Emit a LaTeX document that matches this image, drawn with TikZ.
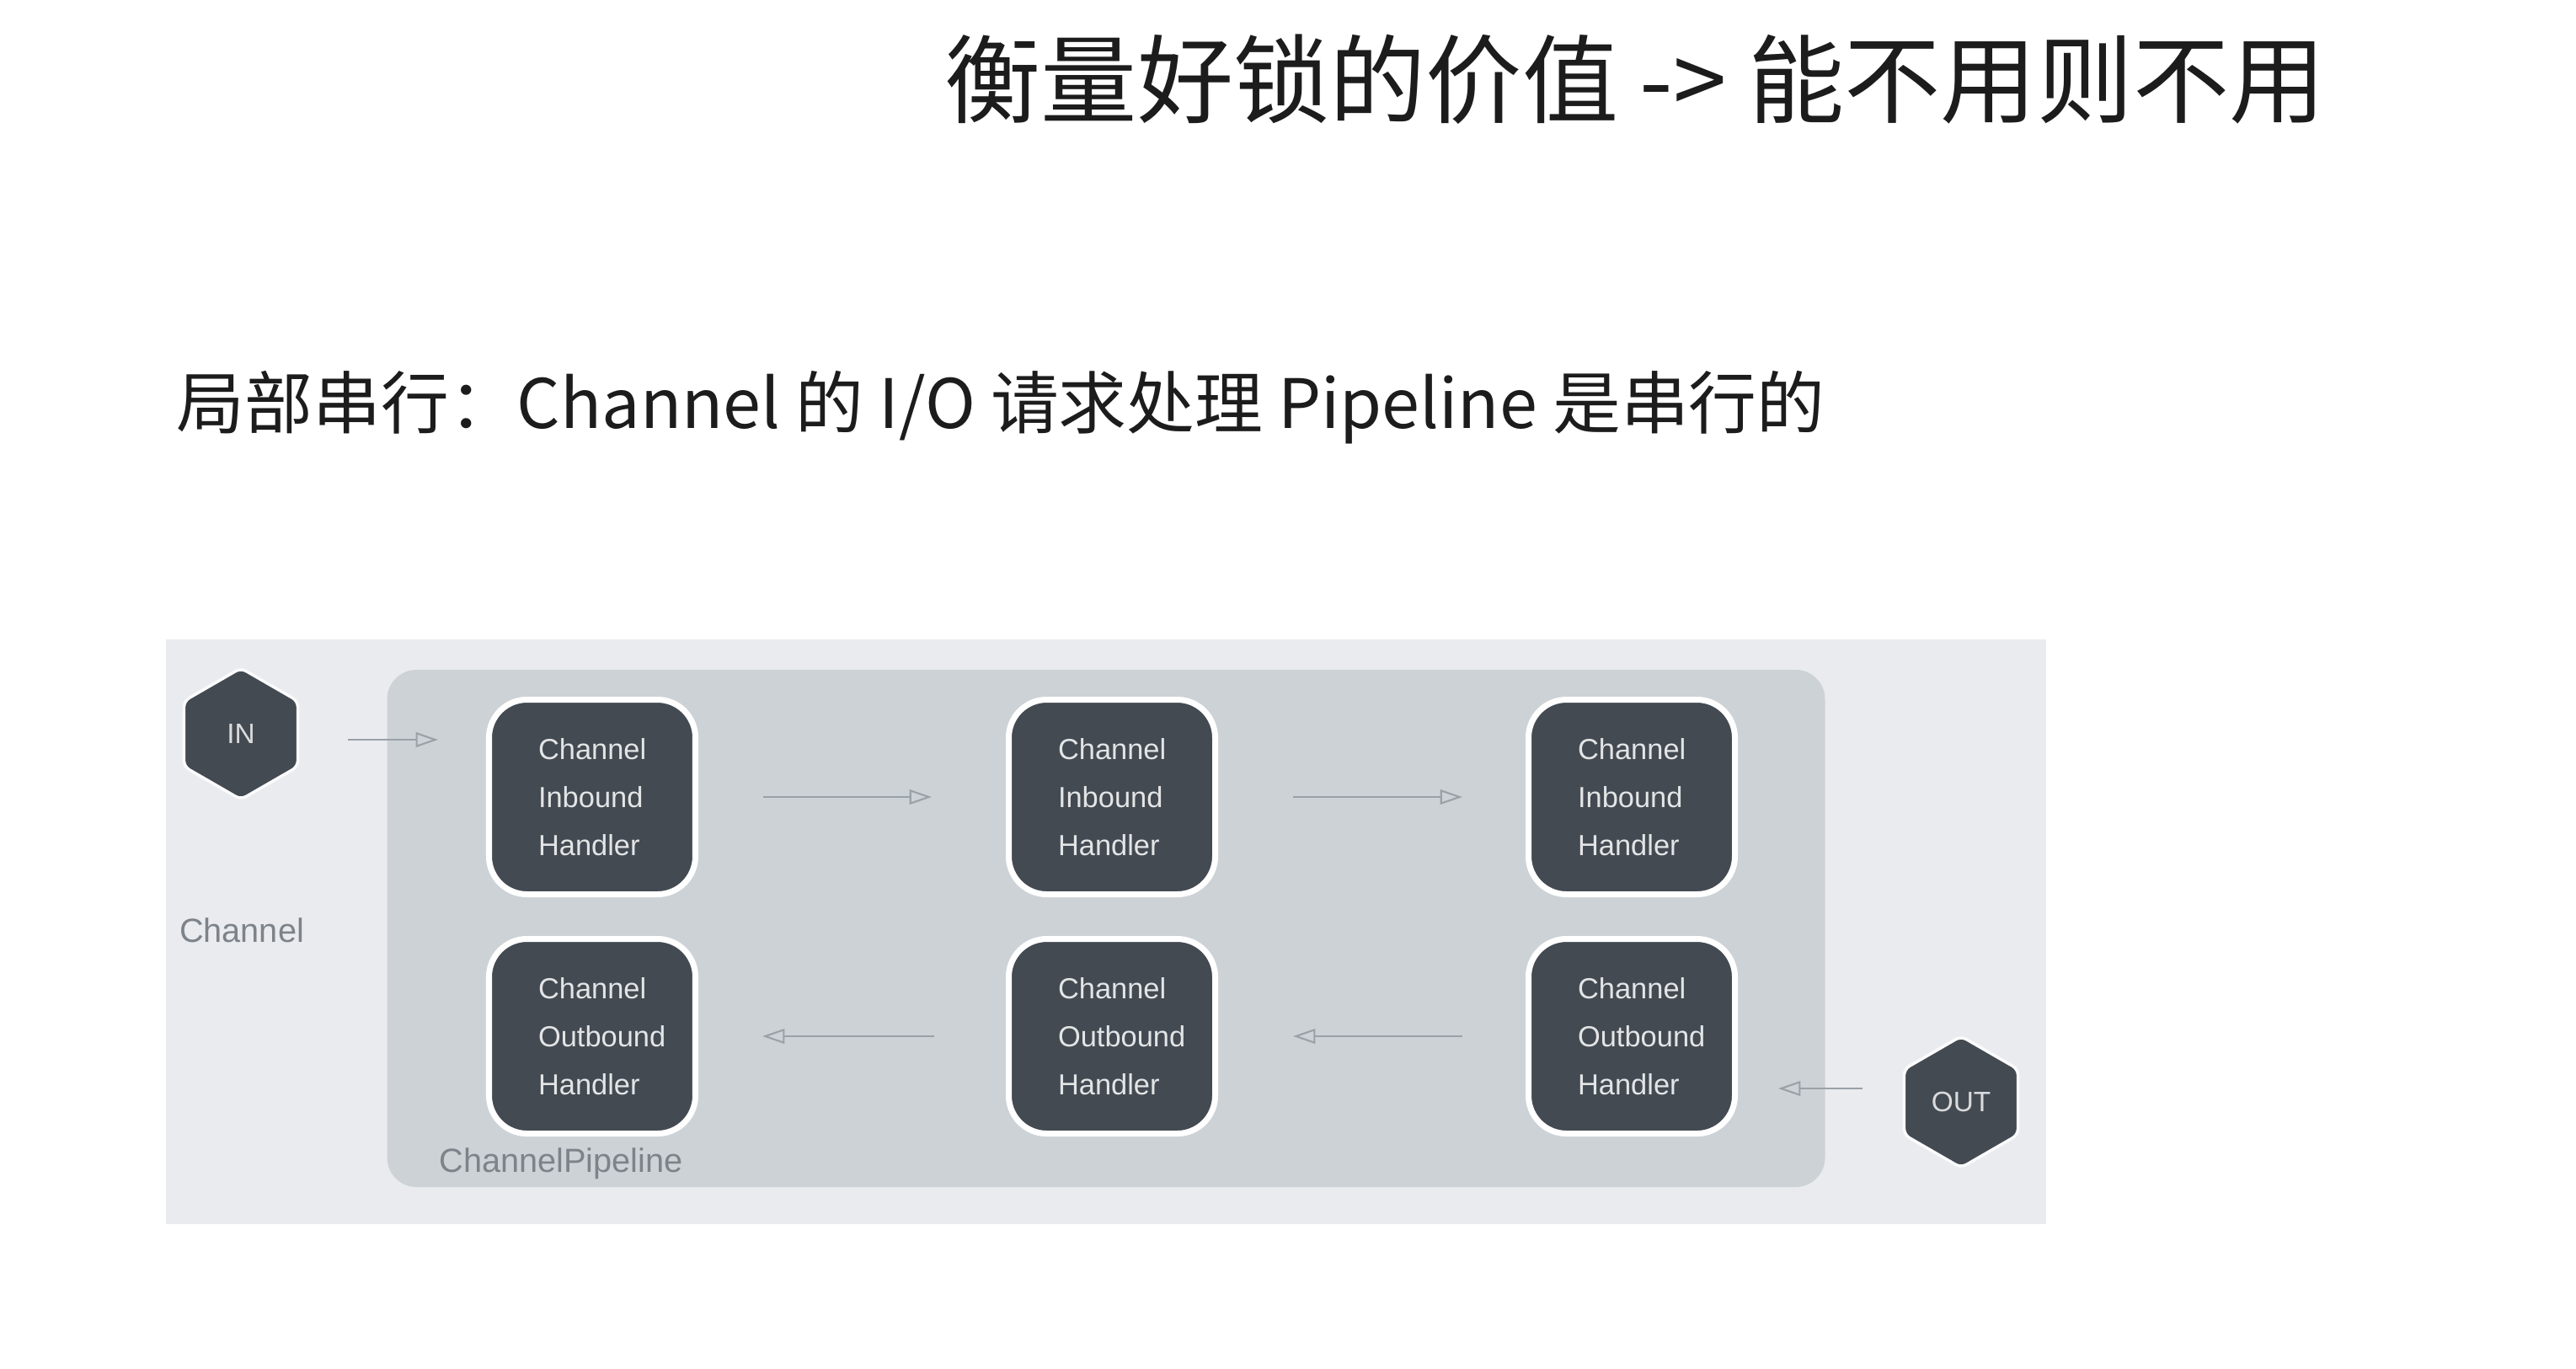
\documentclass[tikz,border=0pt]{standalone}
\usepackage{fontspec}
\setmainfont{Liberation Sans}
\newfontfamily\cjk{Noto Sans CJK SC}
\usetikzlibrary{positioning}
\usetikzlibrary{calc}
\usetikzlibrary{shapes.geometric}
\usetikzlibrary{arrows.meta}
\definecolor{channel colour}{HTML}{E9EBEF}
\definecolor{pipeline colour}{HTML}{CDD2D6}
\definecolor{handler colour}{HTML}{434A52}
\definecolor{flow colour}{HTML}{9AA1A8}
\definecolor{caption colour}{HTML}{7D838A}
\definecolor{heading colour}{HTML}{1C1C1C}
\tikzset{
    % Thin open heads, as on the slide
    >={Triangle[open, length=7.5pt, width=5pt]},
%
    % Define a set of styles
    % First some fills
    channel fill/.style={fill=channel colour},
    pipeline fill/.style={fill=pipeline colour},
    handler fill/.style={fill=handler colour},
    % Next the lines
    flow/.style={color=flow colour, line width=0.6pt, ->},
%
    every node/.style={align=center},
}

\begin{document}
\begin{tikzpicture}[
    handler/.style={
        rectangle, handler fill, draw=white, line width=2pt,
        rounded corners=4.5mm, minimum width=2.45cm, minimum height=2.31cm,
        text=white!85!handler colour, text width=1.28cm, align=left,
        font=\fontsize{9.8}{16.2}\selectfont},
    port/.style={
        regular polygon, regular polygon sides=6, shape border rotate=30,
        handler fill, draw=white!80!channel colour, line width=1pt,
        minimum size=1.56cm, inner sep=0pt, rounded corners=2pt,
        text=white!80!handler colour, font=\fontsize{9.5}{11}\selectfont},
    caption/.style={text=caption colour, font=\fontsize{11.3}{14}\selectfont},
    heading/.style={anchor=west, inner sep=0pt, text=heading colour},
    ]

\fill [white] (0,0) rectangle (30.58,-16.24);
\useasboundingbox (0,0) rectangle (30.58,-16.24);

\path
    (11.21,-0.94) node (heading) [heading,
        font=\cjk\fontsize{32.5}{38}\selectfont]
        {衡量好锁的价值 -> 能不用则不用}
    (2.09,-4.84) node (subheading) [heading,
        font=\cjk\fontsize{23}{28}\selectfont]
        {局部串行：Channel 的 I/O 请求处理 Pipeline 是串行的};

\path (13.13,-11.06)
    node (channel) [
        rectangle, channel fill,
        minimum width=22.32cm, minimum height=6.94cm] {}
    node (pipeline) [
        rectangle, pipeline fill, rounded corners=3.5mm,
        minimum width=17.07cm, minimum height=6.14cm] at +(0,0.04) {};

\path
    (7.03,-9.46) node (ib1) [handler] {Channel\\Inbound\\Handler}
    (13.20,-9.46) node (ib2) [handler] {Channel\\Inbound\\Handler}
    (19.37,-9.46) node (ib3) [handler] {Channel\\Inbound\\Handler}
    (7.03,-12.30) node (ob1) [handler] {Channel\\Outbound\\Handler}
    (13.20,-12.30) node (ob2) [handler] {Channel\\Outbound\\Handler}
    (19.37,-12.30) node (ob3) [handler] {Channel\\Outbound\\Handler};

\path
    (2.86,-8.71) node (in) [port] {IN}
    (23.28,-13.08) node (out) [port] {OUT}
    (2.87,-11.04) node (channel label) [caption] {Channel}
    (5.09,-13.81) node (pipeline label) [caption, anchor=west] {ChannelPipeline};

\coordinate (in port) at ([yshift=-0.7mm]in.east);
\coordinate (out port) at ([yshift=1.6mm]out.west);

\draw [flow, shorten <=5.8mm, shorten >=5.7mm] (in port) -- (in port -| ib1.west);
\draw [flow, shorten <=7.7mm, shorten >=8.8mm] (ib1) -- (ib2);
\draw [flow, shorten <=8.9mm, shorten >=7.5mm] (ib2) -- (ib3);
\draw [flow, shorten <=4.8mm, shorten >=4.8mm] (out port) -- (out port -| ob3.east);
\draw [flow, shorten <=7.5mm, shorten >=8.9mm] (ob3) -- (ob2);
\draw [flow, shorten <=8.5mm, shorten >=7.6mm] (ob2) -- (ob1);

\end{tikzpicture}
\end{document}
